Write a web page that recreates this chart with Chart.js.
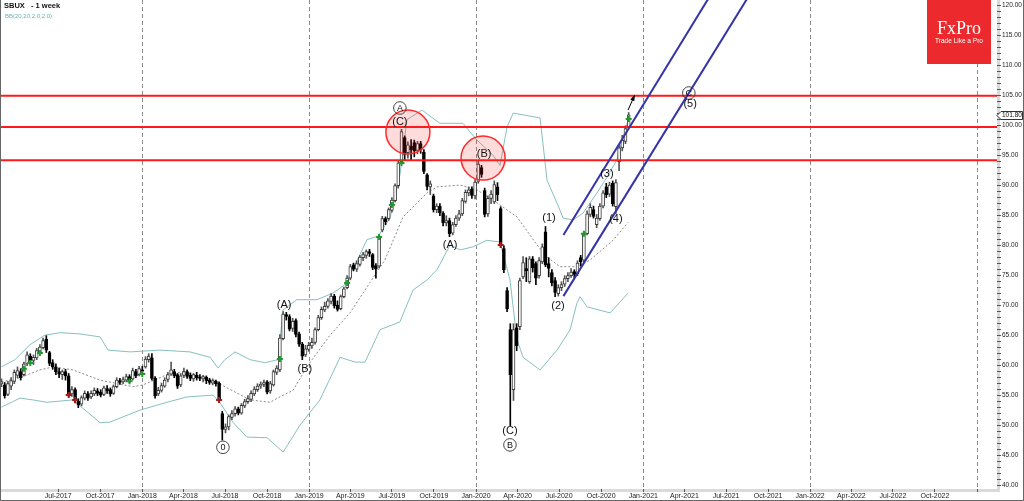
<!DOCTYPE html>
<html>
<head>
<meta charset="utf-8">
<script src="https://cdn.jsdelivr.net/npm/chart.js@4.4.1/dist/chart.umd.min.js"></script>
<style>
html, body { margin: 0; padding: 0; background: #fff; }
</style>
</head>
<body>
<canvas id="chart" width="1024" height="501"></canvas>
<script>
// weekly SBUX candles, index 0 = first week on screen (Mar 2017), index 44 = week of Jan 1 2018
var opens = [
  57.0, 56.8, 55.2, 56.6, 57.4, 58.4, 59.0, 58.5, 60.3, 61.6,
  60.9, 61.3, 62.3, 63.0, 64.4, 62.2, 60.5, 59.8, 59.0, 58.5,
  59.0, 58.3, 55.3, 56.0, 54.1, 53.6, 54.6, 55.3, 54.8, 55.3,
  55.8, 55.6, 55.2, 56.2, 56.0, 55.4, 56.5, 57.5, 57.3, 57.6,
  58.2, 57.8, 59.0, 58.5, 59.3, 59.8, 61.0, 61.3, 57.9, 55.3,
  55.9, 56.6, 57.7, 58.6, 59.0, 58.5, 56.8, 58.4, 59.0, 58.4,
  57.8, 58.4, 58.1, 57.8, 58.1, 57.6, 57.1, 57.4, 57.1, 52.0,
  49.4, 49.8, 51.4, 52.0, 52.8, 52.1, 53.3, 54.0, 54.4, 55.3,
  56.0, 56.6, 56.9, 57.3, 55.8, 56.8, 58.9, 59.3, 64.5, 68.5,
  68.2, 66.2, 67.5, 65.3, 63.6, 61.8, 62.7, 63.3, 63.9, 66.0,
  68.0, 69.3, 69.9, 70.7, 71.6, 70.1, 69.5, 71.5, 73.0, 74.6,
  76.8, 76.1, 76.9, 78.0, 78.4, 79.0, 78.5, 76.7, 76.6, 82.6,
  84.5, 84.5, 85.9, 87.5, 90.0, 94.0, 98.0, 95.5, 96.6, 97.2,
  95.9, 97.0, 95.6, 91.8, 89.8, 88.3, 86.0, 86.6, 85.4, 83.8,
  84.2, 82.1, 83.5, 84.6, 85.3, 87.4, 88.8, 89.4, 88.3, 90.7,
  93.0, 89.2, 85.3, 87.9, 87.3, 89.8, 86.2, 79.5, 72.5, 66.0,
  56.0, 66.3, 66.5, 74.8, 76.2, 74.0, 77.8, 77.0, 75.0, 77.3,
  82.3, 77.0, 75.5, 74.2, 72.0, 73.0, 73.6, 74.5, 75.0, 75.7,
  75.3, 78.0, 77.6, 82.0, 85.2, 86.0, 83.5, 84.5, 86.6, 89.8,
  88.6, 90.4, 86.5, 94.0, 96.3, 97.4, 99.8
];
var highs = [
  57.8, 57.2, 57.4, 58.0, 59.3, 59.8, 59.5, 60.6, 62.3, 62.0,
  61.8, 62.9, 63.5, 64.6, 65.0, 62.4, 61.0, 60.3, 59.6, 59.3,
  59.4, 58.7, 56.5, 56.3, 54.5, 55.0, 55.8, 55.7, 55.8, 56.3,
  56.2, 56.0, 56.6, 56.7, 56.3, 56.8, 58.0, 57.9, 58.1, 58.6,
  58.5, 59.6, 59.4, 59.9, 59.9, 61.5, 62.0, 62.0, 58.2, 56.4,
  57.1, 58.0, 58.9, 60.6, 59.4, 58.7, 58.7, 59.6, 59.3, 58.8,
  58.7, 58.9, 58.5, 58.4, 58.3, 57.9, 57.8, 57.6, 57.3, 52.4,
  50.3, 51.8, 52.5, 53.2, 53.1, 53.7, 54.4, 55.0, 55.8, 56.5,
  57.0, 57.3, 57.6, 57.5, 57.4, 59.3, 60.0, 65.2, 69.0, 68.9,
  68.5, 67.9, 67.8, 65.6, 63.9, 63.4, 63.9, 64.6, 66.3, 68.4,
  69.8, 70.6, 71.2, 72.0, 71.9, 70.8, 71.8, 73.1, 75.0, 76.9,
  77.1, 77.5, 78.4, 78.9, 79.3, 79.4, 78.7, 77.0, 81.7, 84.9,
  84.8, 86.3, 88.0, 90.3, 94.2, 99.4, 98.3, 97.3, 97.7, 97.6,
  97.4, 97.4, 96.0, 92.0, 90.8, 88.6, 87.0, 87.0, 85.7, 85.0,
  84.6, 83.9, 85.0, 85.9, 87.9, 89.3, 89.8, 89.8, 91.0, 94.2,
  93.4, 89.6, 88.3, 89.2, 90.8, 90.5, 86.5, 80.0, 73.0, 67.0,
  67.0, 67.0, 74.6, 78.2, 78.0, 78.2, 78.2, 77.3, 78.0, 80.3,
  83.2, 78.0, 76.0, 74.7, 73.5, 74.0, 75.0, 75.5, 76.2, 76.0,
  77.5, 78.4, 82.3, 85.8, 87.0, 86.6, 85.2, 87.0, 89.2, 90.4,
  90.6, 90.8, 91.0, 96.8, 98.4, 100.0, 102.2
];
var lows = [
  56.5, 54.6, 55.0, 56.0, 57.0, 58.0, 57.6, 58.3, 60.0, 60.4,
  60.2, 61.0, 62.0, 62.8, 62.2, 60.0, 59.4, 58.5, 58.0, 57.7,
  57.6, 54.8, 54.9, 53.8, 53.0, 53.3, 54.3, 54.2, 54.5, 55.0,
  55.0, 54.8, 55.0, 55.4, 54.9, 55.2, 56.3, 56.9, 57.0, 57.3,
  57.2, 57.6, 58.0, 58.3, 58.5, 59.6, 60.6, 57.6, 54.6, 55.0,
  55.6, 56.4, 57.3, 58.4, 58.0, 56.2, 56.5, 58.0, 57.9, 57.5,
  57.4, 57.6, 57.5, 57.3, 57.0, 56.9, 56.8, 56.6, 54.0, 47.6,
  48.8, 49.3, 51.0, 51.6, 51.8, 51.9, 53.0, 53.7, 54.0, 55.0,
  55.7, 56.2, 56.5, 55.3, 55.4, 56.6, 58.5, 59.0, 64.3, 67.6,
  65.8, 65.7, 64.8, 63.2, 61.0, 61.5, 62.4, 62.9, 63.6, 65.8,
  67.7, 69.0, 69.6, 70.3, 69.6, 69.1, 69.3, 71.3, 72.8, 74.3,
  75.8, 75.7, 76.6, 77.5, 77.9, 78.2, 76.0, 74.6, 76.3, 82.3,
  83.5, 84.2, 85.6, 87.3, 89.6, 93.7, 94.3, 94.6, 94.3, 94.8,
  95.3, 95.4, 92.0, 89.3, 88.5, 85.6, 85.5, 85.0, 83.3, 83.3,
  81.5, 81.8, 83.2, 84.2, 85.0, 87.1, 88.3, 87.9, 87.8, 90.4,
  91.4, 84.8, 84.9, 87.0, 87.0, 87.5, 79.7, 75.5, 69.0, 50.0,
  54.2, 62.5, 66.0, 74.5, 74.0, 73.7, 75.6, 73.5, 74.6, 77.0,
  76.5, 74.8, 73.3, 71.5, 71.6, 72.5, 73.2, 74.0, 74.7, 74.6,
  75.0, 76.6, 77.3, 81.8, 84.8, 84.6, 83.0, 84.2, 86.3, 88.0,
  88.2, 86.6, 85.4, 92.5, 95.8, 97.0, 99.5
];
var closes = [
  57.3, 55.0, 57.0, 57.5, 58.9, 59.2, 58.0, 60.3, 61.8, 60.9,
  61.4, 62.5, 63.1, 64.2, 62.6, 60.4, 59.8, 59.0, 58.6, 59.0,
  58.3, 55.1, 56.0, 54.3, 53.5, 54.7, 55.4, 54.6, 55.4, 55.9,
  55.4, 55.1, 56.3, 55.8, 55.3, 56.5, 57.6, 57.2, 57.7, 58.2,
  57.6, 59.2, 58.3, 59.5, 59.1, 61.1, 61.6, 57.9, 55.0, 55.9,
  56.7, 57.6, 58.5, 59.3, 58.3, 56.6, 58.3, 59.0, 58.2, 57.9,
  58.5, 58.0, 57.9, 58.2, 57.5, 57.2, 57.5, 57.0, 54.3, 49.4,
  49.8, 51.5, 52.0, 52.8, 52.1, 53.4, 54.0, 54.5, 55.4, 56.1,
  56.6, 56.9, 57.2, 55.6, 57.0, 59.0, 59.6, 64.6, 68.6, 68.2,
  66.1, 67.4, 65.2, 63.6, 61.6, 62.8, 63.4, 63.9, 66.0, 68.0,
  69.4, 69.9, 70.8, 71.6, 70.0, 69.4, 71.5, 72.8, 74.6, 76.5,
  76.1, 77.0, 78.1, 78.5, 79.0, 78.7, 76.4, 76.1, 81.4, 84.5,
  84.0, 86.0, 87.6, 90.0, 93.8, 99.0, 95.2, 96.8, 96.0, 95.8,
  97.0, 96.0, 92.4, 89.9, 90.3, 86.0, 86.6, 85.5, 83.8, 84.2,
  82.0, 83.5, 84.6, 85.3, 87.5, 88.9, 89.3, 88.4, 90.6, 93.6,
  91.9, 85.2, 87.9, 88.6, 90.2, 88.5, 80.1, 76.0, 69.5, 58.5,
  66.0, 63.3, 74.2, 77.2, 75.8, 77.8, 76.3, 74.6, 77.5, 79.8,
  76.8, 76.2, 73.8, 72.2, 73.0, 73.5, 74.5, 75.0, 75.6, 75.2,
  77.1, 77.3, 81.9, 85.3, 86.4, 84.9, 84.6, 86.6, 88.8, 88.5,
  90.1, 87.0, 90.5, 96.3, 97.6, 99.5, 101.8
];

// Bollinger bands (20, 2.0) as [week index, price]
var bbUpper = [
  [0, 59.8], [4.2, 61.0], [8.9, 63.5], [13.6, 65.1], [18.3, 65.5], [24.5, 65.3], [30.8, 64.8],
  [33.3, 62.6], [40.2, 62.3], [49.5, 62.6], [58.9, 62.3], [65.2, 61.4], [67.7, 59.6], [69.8, 61.0],
  [73, 62.3], [77.7, 61.0], [82.3, 60.5], [86.4, 61.0], [88, 69.3], [92.3, 71.0], [98.6, 71.0],
  [103.6, 72.1], [107.3, 73.5], [112, 78.5], [114.2, 81.0], [117.7, 81.6], [121.4, 84.6],
  [124.5, 91.8], [126.7, 101.0], [131.4, 102.6], [137, 100.4], [144.2, 100.4], [148.6, 97.6],
  [153.6, 95.1], [155.8, 93.4], [158, 99.8], [159.9, 102.1], [168.3, 101.3], [170.5, 90.9],
  [173.6, 87.1], [175.5, 84.6], [178.6, 84.3], [181.7, 85.4], [186.1, 88.8], [189.2, 91.4],
  [192.3, 94.3], [195.8, 100.9]
];
var bbMiddle = [
  [0, 57.3], [5.8, 58.0], [12, 59.3], [16.1, 59.8], [22.3, 59.3], [30.8, 57.6], [41.1, 56.5],
  [44.2, 56.8], [51.7, 58.5], [56.7, 59.0], [66.1, 57.6], [70.5, 56.3], [77.7, 54.3], [83.9, 53.9],
  [87, 54.8], [91.1, 55.9], [95.8, 60.1], [102.7, 65.1], [108.9, 68.8], [115.2, 73.9],
  [119.8, 77.6], [125.5, 84.8], [133, 88.8], [136.1, 89.8], [143.3, 90.1], [148.6, 89.3],
  [155.8, 86.8], [161.1, 84.8], [167.4, 80.1], [170.5, 78.1], [174.5, 76.5], [179.8, 76.5],
  [183.9, 77.6], [191.1, 80.9], [195.8, 83.9]
];
var bbLower = [
  [0, 53.1], [5.8, 54.6], [9.8, 54.3], [14.2, 53.9], [22.3, 54.3], [30.8, 50.5], [33.9, 50.6],
  [43.3, 52.6], [51.7, 53.9], [58, 54.8], [66.1, 55.1], [68.3, 53.8], [72.4, 50.5], [76.7, 48.1],
  [83, 48.0], [88, 45.6], [93.3, 50.1], [99.5, 54.3], [105.8, 61.4], [110.5, 60.6], [113.6, 60.6],
  [118.3, 66.0], [124.5, 67.3], [128.6, 72.6], [133, 74.3], [136.1, 76.0], [140.2, 80.1],
  [143.3, 79.3], [147.3, 79.8], [151.7, 80.9], [155.8, 80.6], [158.9, 74.3], [161.1, 64.3],
  [163, 61.4], [168.3, 59.3], [173.6, 62.6], [177.7, 66.0], [179.8, 70.4], [180.8, 71.5],
  [183, 69.8], [190.2, 68.8], [195.8, 72.1]
];

// horizontal resistance levels and the rising channel
var levels = [105.0, 99.8, 94.25];
var channelUpper = [[175.6, 81.8], [230, 129.1]];
var channelLower = [[175.6, 71.6], [240, 127.2]];
var zones = [[127, 98.95], [150.5, 94.6]];
var upSignals = [[7, 59.5], [9, 60.45], [12, 62.1], [40, 57.4], [44, 58.6], [87, 61.1], [108, 73.8],
  [118, 81.45], [122, 86.8], [125, 93.8], [182, 82.0], [196, 101.1]];
var downSignals = [[21, 55.1], [23, 54.3], [68, 54.3], [156, 80.1]];
var targetArrow = [[195.8, 102.6], [197.7, 104.9]];

// wave labels: text, week index, price, circled
var waveLabels = [
  ['A', 124.5, 102.95, true], ['(C)', 124.5, 100.6, false], ['(B)', 150.8, 95.3, false],
  ['(A)', 140.2, 80.1, false], ['(A)', 88.3, 70.1, false], ['(B)', 94.8, 59.45, false],
  ['0', 69.2, 46.4, true], ['(C)', 158.9, 49.1, false], ['B', 158.9, 46.8, true],
  ['(1)', 171.1, 84.6, false], ['(2)', 173.9, 70.0, false], ['(3)', 189.2, 91.9, false],
  ['(4)', 192, 84.4, false], ['C', 214.8, 105.45, true], ['(5)', 215.2, 103.6, false]
];

// x axis: quarter ticks
var tickDates = ['2017-07-01', '2017-10-01', '2018-01-01', '2018-04-01', '2018-07-01', '2018-10-01',
  '2019-01-01', '2019-04-01', '2019-07-01', '2019-10-01', '2020-01-01', '2020-04-01', '2020-07-01',
  '2020-10-01', '2021-01-01', '2021-04-01', '2021-07-01', '2021-10-01', '2022-01-01', '2022-04-01',
  '2022-07-01', '2022-10-01', '2023-01-01'];
var tickLabels = ['Jul-2017', 'Oct-2017', 'Jan-2018', 'Apr-2018', 'Jul-2018', 'Oct-2018',
  'Jan-2019', 'Apr-2019', 'Jul-2019', 'Oct-2019', 'Jan-2020', 'Apr-2020', 'Jul-2020',
  'Oct-2020', 'Jan-2021', 'Apr-2021', 'Jul-2021', 'Oct-2021', 'Jan-2022', 'Apr-2022',
  'Jul-2022', 'Oct-2022', ''];

var jan2018Index = 44;
var tickPos = tickDates.map(function(d) {
  return jan2018Index + (Date.parse(d) - Date.parse('2018-01-01')) / 604800000;
});
var yearStart = tickDates.map(function(d) { return d.slice(5) === '01-01'; });

function xy(p) { return { x: p[0], y: p[1] }; }

var bodies = [], wicks = [], bodyFill = [], bodyEdge = [], wickColor = [];
closes.forEach(function(c, i) {
  var up = c >= opens[i];
  bodies.push({ x: i, y: [opens[i], c] });
  wicks.push({ x: i, y: [lows[i], highs[i]] });
  bodyFill.push(up ? '#ffffff' : '#000000');
  bodyEdge.push(up ? '#3a3a3a' : '#000000');
  wickColor.push(up ? '#555555' : '#000000');
});

var levelSets = levels.map(function(v) {
  return {
    type: 'line', data: [{ x: -2, y: v }, { x: 315, y: v }],
    borderColor: '#ff1a1a', borderWidth: 2, pointRadius: 0, order: 4
  };
});

Chart.defaults.font.family = '"Liberation Sans", Arial, sans-serif';

var decor = {
  id: 'decor',
  beforeDraw: function(chart) {
    var ctx = chart.ctx, a = chart.chartArea;
    ctx.save();
    ctx.fillStyle = '#ffffff';
    ctx.fillRect(0, 0, chart.width, chart.height);
    ctx.fillStyle = '#dadada';
    ctx.fillRect(a.right, 0, 3, a.bottom + 3);
    ctx.fillRect(0, a.bottom, a.right + 3, 3);
    ctx.restore();
  },
  afterDatasetsDraw: function(chart) {
    var ctx = chart.ctx, xs = chart.scales.x, ys = chart.scales.y;
    ctx.save();
    ctx.textAlign = 'center';
    ctx.textBaseline = 'middle';
    waveLabels.forEach(function(l) {
      var px = xs.getPixelForValue(l[1]), py = ys.getPixelForValue(l[2]);
      ctx.fillStyle = '#111';
      if (l[3]) {
        ctx.beginPath();
        ctx.arc(px, py, 6.3, 0, Math.PI * 2);
        ctx.strokeStyle = '#333';
        ctx.lineWidth = 0.9;
        ctx.stroke();
        ctx.font = '9px "Liberation Sans"';
        ctx.fillText(l[0], px, py + 0.5);
      } else {
        ctx.font = '11px "Liberation Sans"';
        ctx.fillText(l[0], px, py);
      }
    });
    // target arrow
    var x0 = xs.getPixelForValue(targetArrow[0][0]), y0 = ys.getPixelForValue(targetArrow[0][1]);
    var x1 = xs.getPixelForValue(targetArrow[1][0]), y1 = ys.getPixelForValue(targetArrow[1][1]);
    var ang = Math.atan2(y1 - y0, x1 - x0);
    ctx.strokeStyle = '#000';
    ctx.lineWidth = 1;
    ctx.beginPath();
    ctx.moveTo(x0, y0);
    ctx.lineTo(x1, y1);
    ctx.stroke();
    ctx.fillStyle = '#000';
    ctx.beginPath();
    ctx.moveTo(x1 + 2 * Math.cos(ang), y1 + 2 * Math.sin(ang));
    ctx.lineTo(x1 - 5 * Math.cos(ang - 0.45), y1 - 5 * Math.sin(ang - 0.45));
    ctx.lineTo(x1 - 5 * Math.cos(ang + 0.45), y1 - 5 * Math.sin(ang + 0.45));
    ctx.closePath();
    ctx.fill();
    ctx.restore();
  },
  afterDraw: function(chart) {
    var ctx = chart.ctx, a = chart.chartArea, ys = chart.scales.y;
    ctx.save();
    // last price tag
    var last = closes[closes.length - 1];
    var py = Math.round(ys.getPixelForValue(last)) + 0.5;
    ctx.beginPath();
    ctx.moveTo(a.right, py);
    ctx.lineTo(a.right + 4, py - 4);
    ctx.lineTo(1022.5, py - 4);
    ctx.lineTo(1022.5, py + 4);
    ctx.lineTo(a.right + 4, py + 4);
    ctx.closePath();
    ctx.fillStyle = '#fff';
    ctx.fill();
    ctx.strokeStyle = '#333';
    ctx.lineWidth = 1;
    ctx.stroke();
    ctx.fillStyle = '#111';
    ctx.font = '6.5px "Liberation Sans"';
    ctx.textBaseline = 'middle';
    ctx.fillText(last.toFixed(2), a.right + 5, py);
    // title
    ctx.font = 'bold 7.5px "Liberation Sans"';
    ctx.fillText('SBUX', 4, 6);
    ctx.fillText('- 1 week', 31, 6);
    ctx.fillStyle = '#6fb0b0';
    ctx.font = '6px "Liberation Sans"';
    ctx.fillText('BB(20,20,2.0,2.0)', 5, 16);
    // logo
    ctx.fillStyle = '#ec2a2d';
    ctx.fillRect(927, 0, 64, 64);
    ctx.fillStyle = '#fff';
    ctx.textAlign = 'center';
    ctx.textBaseline = 'alphabetic';
    ctx.font = '18px "Liberation Serif"';
    ctx.fillText('FxPro', 959, 34);
    ctx.font = '6.5px "Liberation Sans"';
    ctx.fillText('Trade Like a Pro', 959, 43);
    // frame
    ctx.strokeStyle = '#666';
    ctx.beginPath();
    ctx.moveTo(0.5, 0);
    ctx.lineTo(0.5, 501);
    ctx.moveTo(0, 500.5);
    ctx.lineTo(1024, 500.5);
    ctx.moveTo(1023.5, 0);
    ctx.lineTo(1023.5, 501);
    ctx.stroke();
    ctx.restore();
  }
};

var ctx = document.getElementById('chart').getContext('2d');
var chart = new Chart(ctx, {
  type: 'bar',
  data: {
    datasets: [
      { type: 'line', data: channelUpper.map(xy), borderColor: '#3434a6', borderWidth: 2, pointRadius: 0, order: 1 },
      { type: 'line', data: channelLower.map(xy), borderColor: '#3434a6', borderWidth: 2, pointRadius: 0, order: 1 },
      {
        type: 'bubble', data: zones.map(function(z) { return { x: z[0], y: z[1], r: 22 }; }),
        backgroundColor: 'rgba(255, 40, 40, 0.16)', borderColor: '#ff2a2a', borderWidth: 1.5, order: 2
      },
      { type: 'scatter', data: upSignals.map(xy), pointStyle: 'cross', pointRadius: 3, borderColor: '#1e9a2c', borderWidth: 2, order: 3 },
      { type: 'scatter', data: downSignals.map(xy), pointStyle: 'cross', pointRadius: 3, borderColor: '#a51a1a', borderWidth: 2, order: 3 }
    ].concat(levelSets).concat([
      {
        type: 'bar', data: bodies, grouped: false, barThickness: 3, minBarLength: 1,
        backgroundColor: bodyFill, borderColor: bodyEdge, borderWidth: 1, borderSkipped: false, order: 5
      },
      {
        type: 'bar', data: wicks, grouped: false, barThickness: 1,
        backgroundColor: wickColor, borderWidth: 0, order: 6
      },
      { type: 'line', data: bbUpper.map(xy), borderColor: '#88c0c0', borderWidth: 1, pointRadius: 0, order: 7 },
      { type: 'line', data: bbMiddle.map(xy), borderColor: '#8a8a8a', borderWidth: 1, borderDash: [2, 2], pointRadius: 0, order: 7 },
      { type: 'line', data: bbLower.map(xy), borderColor: '#88c0c0', borderWidth: 1, pointRadius: 0, order: 7 }
    ])
  },
  options: {
    responsive: false,
    animation: false,
    events: [],
    layout: { padding: 0, autoPadding: false },
    plugins: { legend: { display: false }, tooltip: { enabled: false } },
    scales: {
      x: {
        type: 'linear', min: -0.47, max: 311.1, offset: false,
        afterBuildTicks: function(scale) {
          scale.ticks = tickPos.map(function(v) { return { value: v }; });
        },
        afterFit: function(scale) { scale.height = 12; scale.paddingLeft = 0; scale.paddingRight = 0; },
        ticks: {
          autoSkip: false, maxRotation: 0, minRotation: 0, padding: 0, color: '#222',
          font: { size: 7 },
          callback: function(v, idx) { return tickLabels[idx]; }
        },
        grid: {
          offset: false, lineWidth: 1, tickLength: 3, tickColor: '#555',
          color: function(c) { return yearStart[c.index] ? '#8a8a8a' : 'rgba(0,0,0,0)'; }
        },
        border: { display: false, dash: [4, 3] }
      },
      y: {
        type: 'linear', position: 'right', min: 39.45, max: 120.95, beginAtZero: false,
        afterBuildTicks: function(scale) {
          var t = [];
          for (var v = 40; v <= 120; v++) t.push({ value: v });
          scale.ticks = t;
        },
        afterFit: function(scale) { scale.width = 27; scale.paddingTop = 0; scale.paddingBottom = 0; },
        ticks: {
          autoSkip: false, padding: 1, color: '#222', font: { size: 6.5 },
          callback: function(v) { return v % 5 === 0 ? v.toFixed(2) : ''; }
        },
        grid: { drawOnChartArea: false, tickLength: 4, tickColor: '#555' },
        border: { display: false }
      }
    }
  },
  plugins: [decor]
});
</script>
</body>
</html>
